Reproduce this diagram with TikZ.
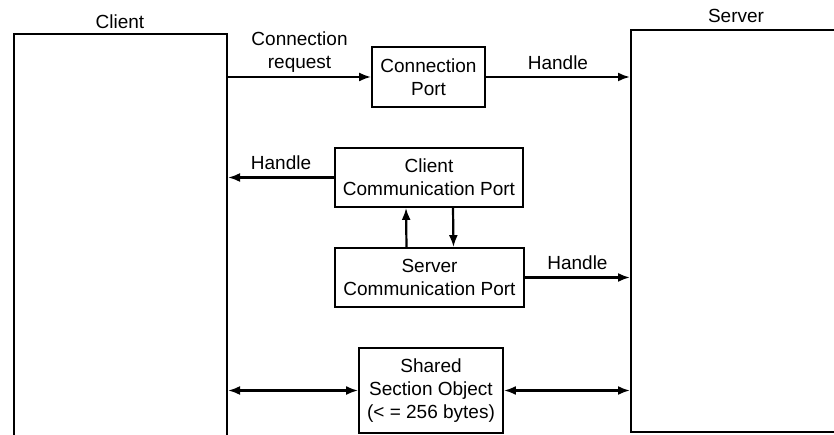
\documentclass[tikz,border=0pt]{standalone}
\usepackage{fontspec}
\setmainfont{Liberation Sans}
\usetikzlibrary{arrows.meta}

\begin{document}
\begin{tikzpicture}[x=1pt,y=-1pt,
        every node/.style={font=\fontsize{19}{23}\selectfont},
        portbox/.style={draw,line width=1.8pt,rectangle,align=center,inner sep=0pt},
        side/.style={draw,line width=2pt,rectangle,inner sep=0pt},
        link/.style={line width=2.2pt,-{Latex[length=12pt,width=9pt]}},
        dlink/.style={line width=2.2pt,{Latex[length=12pt,width=9pt]}-{Latex[length=12pt,width=9pt]}}]
                \useasboundingbox (0,0) rectangle (834,435);
                \clip (0,0) rectangle (834,435);
                \node[side,minimum width=213pt,minimum height=420pt] (client) at (120.5,244) {};
                \node[side,minimum width=220pt,minimum height=402pt] (server) at (741,231) {};
                \node (clientlbl) at (120,22) {Client};
                \node (serverlbl) at (736,16) {Server};
                \node[portbox,minimum width=113pt,minimum height=60pt] (conn) at (428.5,77) {Connection\\Port};
                \node[portbox,minimum width=188pt,minimum height=59pt] (ccp) at (429,177.5) {Client\\Communication Port};
                \node[portbox,minimum width=189pt,minimum height=59pt] (scp) at (429.5,277.5) {Server\\Communication Port};
                \node[portbox,minimum width=144pt,minimum height=85pt] (shared) at (431,390.5) {Shared\\Section Object\\(< = 256 bytes)};
                \draw[link] (client.east |- conn.west) -- (conn.west)
                node[midway,above=0pt,align=center] (reqlbl) {Connection\\request};
                \draw[link] (conn.east) -- (server.west |- conn.east)
                node[midway,above=3pt] (hdl1) {Handle};
                \draw[link] (ccp.west) -- (client.east |- ccp.west)
                node[midway,above=3pt] (hdl2) {Handle};
                \draw[link] (scp.east) -- (server.west |- scp.east)
                node[midway,above=3pt] (hdl3) {Handle};
                \draw[link] ([xshift=-23pt]scp.north) -- ([xshift=-23pt]ccp.south);
                \draw[link] ([xshift=24pt]ccp.south) -- ([xshift=24pt]scp.north);
                \draw[dlink] (client.east |- shared.west) -- (shared.west);
                \draw[dlink] (shared.east) -- (server.west |- shared.east);
            \end{tikzpicture}
\end{document}
